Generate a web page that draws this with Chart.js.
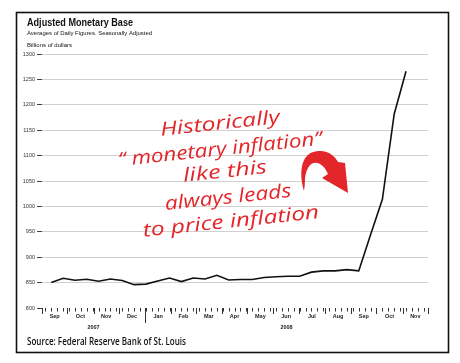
<!DOCTYPE html>
<html>
<head>
<meta charset="utf-8">
<script src="https://cdn.jsdelivr.net/npm/chart.js@4.4.1/dist/chart.umd.min.js"></script>
<style>
html,body{margin:0;padding:0;background:#fff;}
canvas{display:block;}
</style>
</head>
<body>
<canvas id="c" width="460" height="363"></canvas>
<script>
// ---- data ----
const dates = ['2007-09-12','2007-09-26','2007-10-10','2007-10-24','2007-11-07','2007-11-21','2007-12-05','2007-12-19',
  '2008-01-02','2008-01-16','2008-01-30','2008-02-13','2008-02-27','2008-03-12','2008-03-26','2008-04-09','2008-04-23',
  '2008-05-07','2008-05-21','2008-06-04','2008-06-18','2008-07-02','2008-07-16','2008-07-30','2008-08-13','2008-08-27',
  '2008-09-10','2008-09-24','2008-10-08','2008-10-22','2008-11-05'];
const values = [850,858.5,854.6,856.6,852.6,857,854,846,
  847,853,859,852,859,857,864.5,855,856,
  856,860,861.5,862.5,862.6,870.6,873,873,875.5,
  873,944,1014,1182,1266];
const monthLabels = ['Sep','Oct','Nov','Dec','Jan','Feb','Mar','Apr','May','Jun','Jul','Aug','Sep','Oct','Nov'];
const yearLabels = ['2007','2008'];
const yTickMin = 800, yTickMax = 1300, yTickStep = 50;
const titleText = 'Adjusted Monetary Base';
const subtitleText = 'Averages of Daily Figures. Seasonally Adjusted';
const unitText = 'Billions of dollars';
const sourceText = 'Source: Federal Reserve Bank of St. Louis';
const noteLines = ['Historically', '\u201C monetary inflation\u201D', 'like this', 'always leads', 'to price inflation'];

// ---- helpers ----
const DAY = 86400000;
const origin = Date.UTC(2007, 8, 1);
function dayOf(s){ const p = s.split('-').map(Number); return (Date.UTC(p[0], p[1]-1, p[2]) - origin) / DAY; }
const monthStarts = [];
for (let i = 0; i <= monthLabels.length; i++) monthStarts.push((Date.UTC(2007, 8 + i, 1) - origin) / DAY);
const xMax = monthStarts[monthStarts.length - 1];
const yearStartIdx = [0, 4, monthLabels.length];
const points = dates.map((d, i) => ({x: dayOf(d), y: values[i]}));

function fitText(ctx, text, x, y, font, w, align){
  ctx.save();
  ctx.font = font;
  const m = ctx.measureText(text).width;
  ctx.translate(x, y);
  ctx.scale(w / m, 1);
  ctx.textAlign = align || 'left';
  ctx.fillText(text, 0, 0);
  ctx.restore();
}

const decor = {
  id: 'decor',
  beforeDraw(chart){
    const ctx = chart.ctx;
    ctx.save();
    ctx.fillStyle = '#fff';
    ctx.fillRect(0, 0, chart.width, chart.height);
    ctx.strokeStyle = '#111';
    ctx.lineWidth = 1.6;
    ctx.strokeRect(16.5, 12.5, 432, 340);
    ctx.fillStyle = '#111';
    ctx.textBaseline = 'middle';
    fitText(ctx, titleText, 27, 23.5, "bold 10px 'Liberation Sans'", 106);
    fitText(ctx, subtitleText, 27, 33.5, "6px 'Liberation Sans'", 125);
    fitText(ctx, unitText, 27, 45.5, "6px 'Liberation Sans'", 45);
    fitText(ctx, sourceText, 27, 342, "600 10px 'Open Sans'", 159);
    ctx.restore();
  },
  afterDraw(chart){
    const ctx = chart.ctx;
    const xs = chart.scales.x;
    const base = chart.chartArea.bottom;
    ctx.save();
    ctx.strokeStyle = '#333';
    ctx.lineWidth = 1;
    // weekly ticks
    for (let d = 4; d <= xMax; d += 7){
      const px = Math.round(xs.getPixelForValue(d)) + 0.5;
      ctx.beginPath(); ctx.moveTo(px, base); ctx.lineTo(px, base + 3.5); ctx.stroke();
    }
    // month ticks
    monthStarts.forEach((d, i) => {
      const px = Math.round(xs.getPixelForValue(d)) + 0.5;
      const len = (i === yearStartIdx[1]) ? 15 : 6;
      ctx.beginPath(); ctx.moveTo(px, base); ctx.lineTo(px, base + len); ctx.stroke();
    });
    ctx.fillStyle = '#222';
    ctx.textAlign = 'center';
    ctx.textBaseline = 'middle';
    ctx.font = "bold 5.5px 'Liberation Sans'";
    monthLabels.forEach((m, i) => {
      const px = (xs.getPixelForValue(monthStarts[i]) + xs.getPixelForValue(monthStarts[i+1])) / 2;
      ctx.fillText(m, px, base + 8.5);
    });
    yearLabels.forEach((y, i) => {
      const px = (xs.getPixelForValue(monthStarts[yearStartIdx[i]]) + xs.getPixelForValue(monthStarts[yearStartIdx[i+1]])) / 2;
      ctx.fillText(y, px, base + 19.5);
    });
    // handwritten note
    ctx.fillStyle = '#e3262a';
    const spots = [[220,124,120],[220,150,205],[225,172,84],[228,198,127],[231,222,177]];
    noteLines.forEach((t, i) => {
      const [cx, cy, w] = spots[i];
      ctx.save();
      ctx.translate(cx, cy);
      ctx.rotate(-6 * Math.PI / 180);
      fitText(ctx, t, 0, 0, "italic 19px 'Open Sans'", w, 'center');
      ctx.restore();
    });
    // curved arrow
    ctx.beginPath();
    ctx.moveTo(304, 191);
    ctx.bezierCurveTo(298, 170, 302, 152, 318, 151);
    ctx.bezierCurveTo(328, 150, 335, 156, 338, 162);
    ctx.lineTo(345, 163);
    ctx.lineTo(348, 193);
    ctx.lineTo(322, 178);
    ctx.lineTo(328, 174);
    ctx.bezierCurveTo(322, 160, 308, 157, 305, 178);
    ctx.quadraticCurveTo(305, 185, 304, 191);
    ctx.closePath();
    ctx.fill();
    ctx.restore();
  }
};

new Chart(document.getElementById('c'), {
  type: 'line',
  data: { datasets: [{ data: points, borderColor: '#111', borderWidth: 1.6, pointRadius: 0, tension: 0, fill: false }] },
  options: {
    responsive: false,
    animation: false,
    events: [],
    layout: { padding: { left: 16, right: 32, top: 54, bottom: 55 } },
    plugins: { legend: { display: false }, tooltip: { enabled: false } },
    scales: {
      x: { type: 'linear', min: 0, max: xMax, display: false },
      y: {
        min: yTickMin, max: yTickMax,
        afterFit: s => { s.width = 26; },
        ticks: { stepSize: yTickStep, color: '#333', padding: 2, font: { size: 5.5, family: "'Liberation Sans'" }, callback: v => String(v) },
        grid: {
          color: c => (c.tick && c.tick.value === yTickMin) ? 'rgba(0,0,0,0)' : '#d0d0d0',
          lineWidth: 1, tickLength: 5, tickColor: '#444', drawTicks: true
        },
        border: { display: false }
      }
    }
  },
  plugins: [decor]
});
</script>
</body>
</html>
